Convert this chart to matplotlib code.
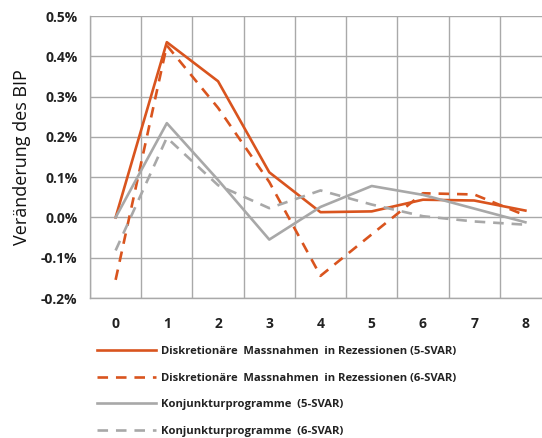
import numpy as np
import matplotlib
matplotlib.use("Agg")
import matplotlib.pyplot as plt
from matplotlib.ticker import FuncFormatter

# quarters after the shock
quarters = [0, 1, 2, 3, 4, 5, 6, 7, 8]

# change of GDP in percent
disk_5svar = [0.0, 0.435, 0.338, 0.112, 0.013, 0.015, 0.044, 0.042, 0.017]
disk_6svar = [-0.155, 0.427, 0.272, 0.088, -0.145, -0.042, 0.060, 0.057, 0.005]
konj_5svar = [0.0, 0.234, 0.093, -0.055, 0.026, 0.078, 0.056, 0.022, -0.012]
konj_6svar = [-0.082, 0.198, 0.080, 0.023, 0.067, 0.032, 0.003, -0.010, -0.018]

labels = [
    "Diskretionäre  Massnahmen  in Rezessionen (5-SVAR)",
    "Diskretionäre  Massnahmen  in Rezessionen (6-SVAR)",
    "Konjunkturprogramme  (5-SVAR)",
    "Konjunkturprogramme  (6-SVAR)",
]

orange = "#D9541E"
grey = "#A8A8A8"
gridc = "#A9A9A9"

plt.rcParams['font.family'] = ['Open Sans', 'DejaVu Sans']

fig = plt.figure(figsize=(5.42, 4.38), dpi=100)
ax = fig.add_axes([90/542, 1 - 298/438, 461/542, 282/438])

lw = 1.9
ax.plot(quarters, disk_5svar, color=orange, lw=lw, label=labels[0])
ax.plot(quarters, disk_6svar, color=orange, lw=lw, dashes=(4, 3), label=labels[1])
ax.plot(quarters, konj_5svar, color=grey, lw=lw, label=labels[2])
ax.plot(quarters, konj_6svar, color=grey, lw=lw, dashes=(4, 3), label=labels[3])

ax.set_xlim(-0.5, 8.5)
ax.set_ylim(-0.2, 0.5)
ax.set_xticks(quarters)
ax.set_xticks(np.arange(-0.5, 9.0, 1.0), minor=True)
ax.set_yticks(np.arange(-0.2, 0.51, 0.1))
ax.yaxis.set_major_formatter(FuncFormatter(lambda v, p: "%.1f%%" % v))

ax.grid(axis='y', which='major', color=gridc, lw=1.0)
ax.grid(axis='x', which='minor', color=gridc, lw=1.0)
ax.grid(axis='x', which='major', visible=False)
ax.set_axisbelow(True)

for s in ['top', 'right']:
    ax.spines[s].set_visible(False)
for s in ['left', 'bottom']:
    ax.spines[s].set_color(gridc)
    ax.spines[s].set_linewidth(1.0)

ax.tick_params(axis='both', which='both', length=0)
ax.tick_params(axis='y', pad=9, labelsize=10)
ax.tick_params(axis='x', pad=14, labelsize=10)
for t in ax.get_xticklabels() + ax.get_yticklabels():
    t.set_fontweight('bold')
    t.set_color('#222222')

ax.set_ylabel("Veränderung des BIP", fontsize=13, labelpad=7, color='#111111')

leg = fig.legend(loc='upper left', bbox_to_anchor=(97/542, 1 - 346/438),
                 frameon=False, handlelength=5.2,
                 handletextpad=0.45, labelspacing=1.38, borderpad=0,
                 borderaxespad=0, prop={'weight': 'bold', 'size': 8.1})
for t in leg.get_texts():
    t.set_color('#222222')

fig.savefig("out.png", dpi=100)
